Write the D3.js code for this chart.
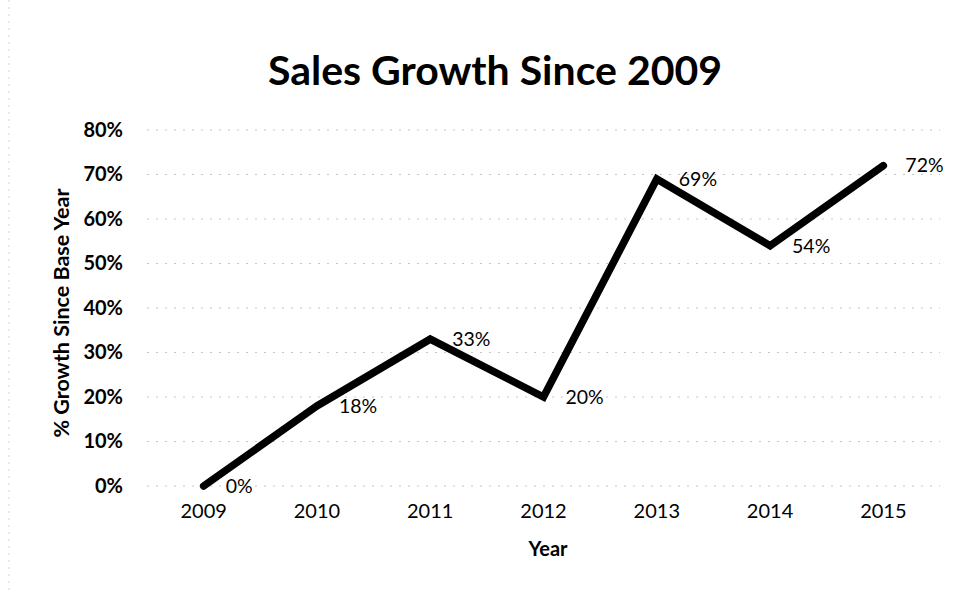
<!DOCTYPE html>
<html>
<head>
<meta charset="utf-8">
<script src="https://cdn.jsdelivr.net/npm/d3@7"></script>
<style>
  body { margin: 0; background: #fff; }
  svg { font-family: Lato, "Open Sans", sans-serif; }
</style>
</head>
<body>
<svg id="chart" width="960" height="594"></svg>
<script>
const years = ["2009", "2010", "2011", "2012", "2013", "2014", "2015"]
const growth = [0, 0.18, 0.33, 0.20, 0.69, 0.54, 0.72]
const yTicks = [0, 0.1, 0.2, 0.3, 0.4, 0.5, 0.6, 0.7, 0.8]

const svg = d3.select("#chart")

const x = d3.scaleBand()
  .domain(years)
  .range([147, 940])

const y = d3.scaleLinear()
  .domain([0, 0.8])
  .range([486, 130])

const pct = d3.format(".0%")

// faint scan edge on the left
svg.append("line")
  .attr("x1", 9).attr("x2", 9)
  .attr("y1", 0).attr("y2", 594)
  .style("stroke", "#d4d4d4")
  .style("stroke-dasharray", "2,5")

// gridlines
svg.append("g")
  .selectAll("line")
  .data(yTicks)
  .join("line")
  .attr("x1", 147)
  .attr("x2", 940)
  .attr("y1", (d) => y(d))
  .attr("y2", (d) => y(d))
  .style("stroke", "#c8c8c8")
  .style("stroke-dasharray", "2,7")

// y axis labels
const yAxis = svg.append("g")
  .attr("transform", "translate(147,0)")
  .call(d3.axisLeft(y).tickValues(yTicks).tickFormat(pct).tickSize(0).tickPadding(24))
yAxis.select(".domain").remove()
yAxis.selectAll("text")
  .style("font-family", "Lato, sans-serif")
  .style("font-size", "20px")
  .style("font-weight", "bold")
  .style("fill", "#000")

// x axis labels
const xAxis = svg.append("g")
  .attr("transform", "translate(0,486)")
  .call(d3.axisBottom(x).tickSize(0).tickPadding(18))
xAxis.select(".domain").remove()
xAxis.selectAll("text")
  .style("font-family", "Lato, sans-serif")
  .style("font-size", "20px")
  .style("fill", "#000")

const cx = (d, i) => x(years[i]) + x.bandwidth() / 2

const line = d3.line()
  .x(cx)
  .y((d) => y(d))

svg.append("path")
  .datum(growth)
  .attr("d", line)
  .style("fill", "none")
  .style("stroke", "#000")
  .style("stroke-width", 7.5)
  .style("stroke-linejoin", "miter")
  .style("stroke-linecap", "round")

// data labels, placed right of each point
svg.append("g")
  .selectAll("text")
  .data(growth)
  .join("text")
  .attr("x", (d, i) => cx(d, i) + 22)
  .attr("y", (d) => y(d))
  .attr("dy", "0.35em")
  .text((d) => pct(d))
  .style("font-size", "19.5px")
  .style("fill", "#000")

svg.append("text")
  .attr("x", 495)
  .attr("y", 85)
  .attr("text-anchor", "middle")
  .text("Sales Growth Since 2009")
  .style("font-size", "41px")
  .style("font-weight", "bold")

svg.append("text")
  .attr("transform", "translate(69,313) rotate(-90)")
  .attr("text-anchor", "middle")
  .text("% Growth Since Base Year")
  .style("font-size", "21.5px")
  .style("font-weight", "bold")

svg.append("text")
  .attr("x", 548)
  .attr("y", 556)
  .attr("text-anchor", "middle")
  .text("Year")
  .style("font-size", "20px")
  .style("font-weight", "bold")
</script>
</body>
</html>
